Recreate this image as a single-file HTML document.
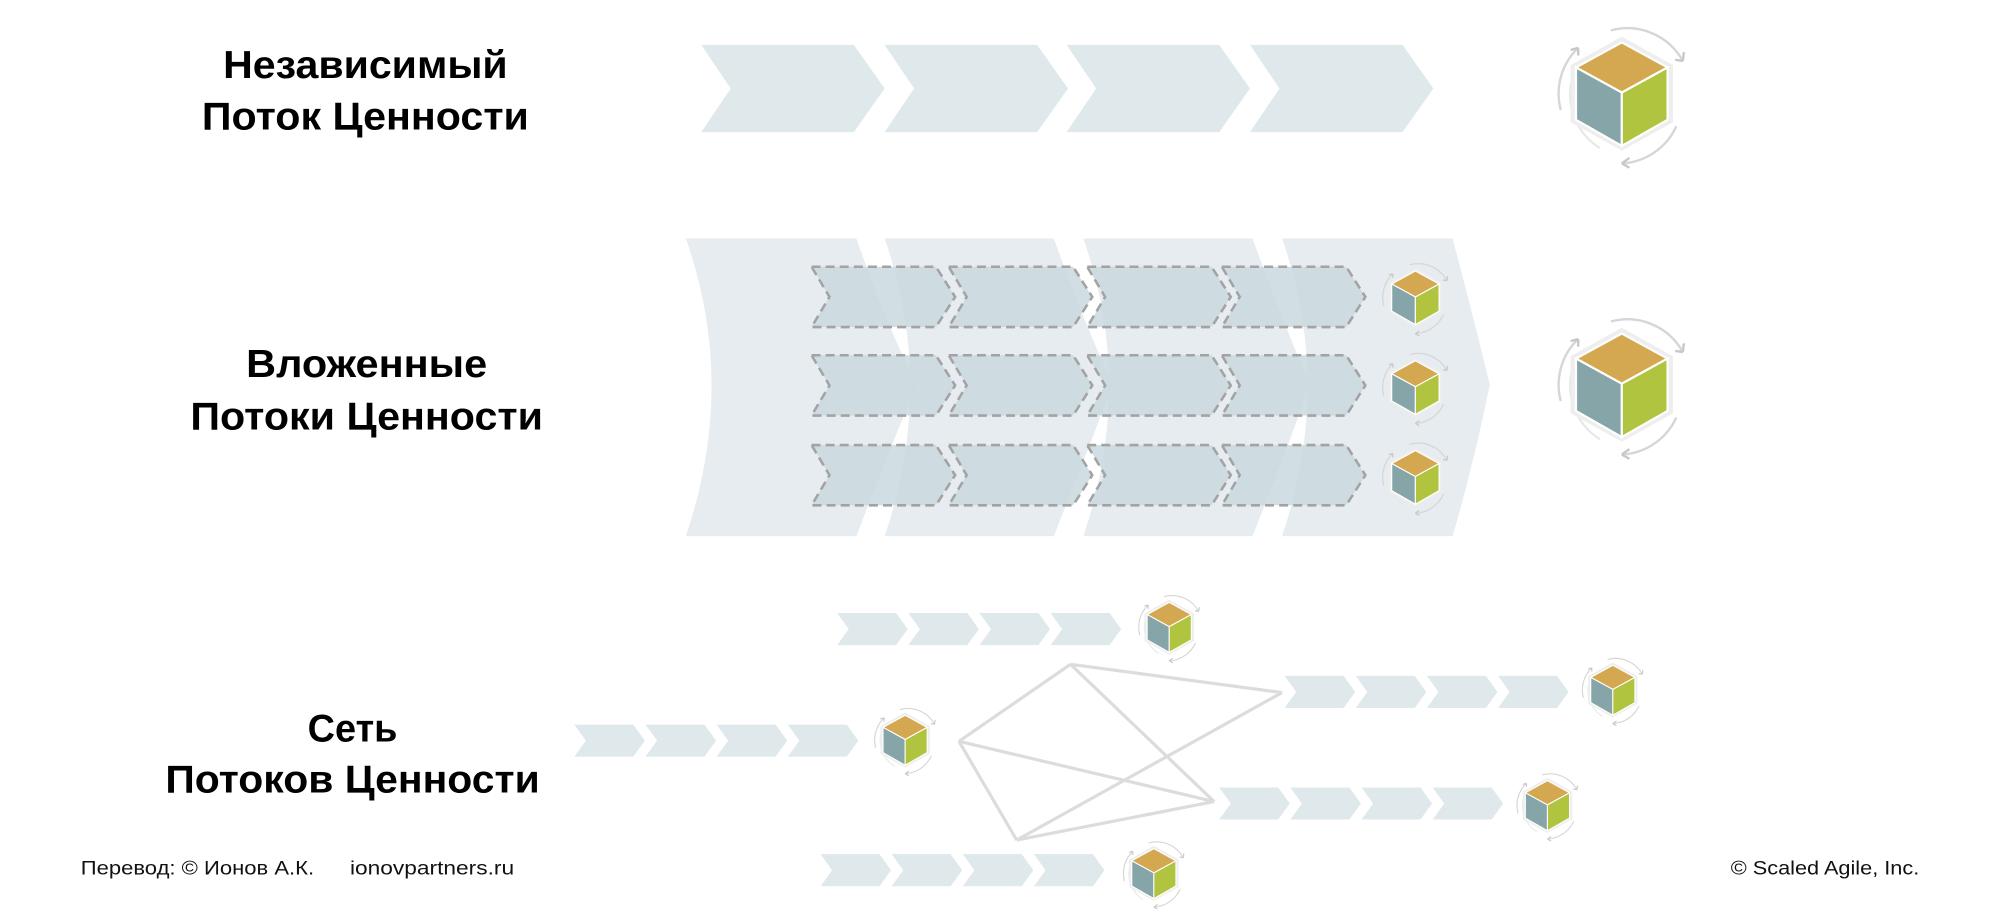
<!DOCTYPE html>
<html><head><meta charset="utf-8"><style>
html,body{margin:0;padding:0;background:#fff;}
svg{display:block;}
.t{font-family:"Liberation Sans","DejaVu Sans",sans-serif;font-weight:bold;font-size:30px;fill:#000;text-anchor:middle;}
.f{font-family:"Liberation Sans","DejaVu Sans",sans-serif;font-size:15px;fill:#111;}
</style></head><body>
<svg width="2000" height="917" viewBox="0 0 1560 715" preserveAspectRatio="none" xmlns="http://www.w3.org/2000/svg">
<defs>
<g id="cube">
  <path d="M-46,-12 A58,58 0 0 0 -20,50" fill="none" stroke="#e8e8e8" stroke-width="2"/>
  <path d="M-56,15 A58,58 0 0 1 -40,-42" fill="none" stroke="#d6d6d6" stroke-width="2.2"/>
  <path d="M-40,-42 l-7,2 M-40,-42 l0,7" stroke="#c8c8c8" stroke-width="2.2"/>
  <path d="M-10,-58 A58,58 0 0 1 56,-30" fill="none" stroke="#d6d6d6" stroke-width="2.2"/>
  <path d="M56,-30 l-7,-1 M56,-30 l1,-8" stroke="#c8c8c8" stroke-width="2.2"/>
  <path d="M50,30 A58,58 0 0 1 0,64" fill="none" stroke="#d6d6d6" stroke-width="2.2"/>
  <path d="M0,64 l7,-5 M0,64 l7,4" stroke="#c8c8c8" stroke-width="2.2"/>
  <polygon points="0,-50 45,-25 45,25 0,50 -45,25 -45,-25" fill="#fff" stroke="#eee" stroke-width="4"/>
  <polygon points="0,-47 42,-24 0,-1 -42,-24" fill="#d4a850" stroke="#fff" stroke-width="2"/>
  <polygon points="-42,-24 0,-1 0,48 -42,24" fill="#86a5a9" stroke="#fff" stroke-width="2"/>
  <polygon points="0,-1 42,-24 42,24 0,48" fill="#b0c43f" stroke="#fff" stroke-width="2"/>
</g>
<path id="ch1" d="M0,0 L119,0 L143,34 L119,68 L0,68 L23,34 Z" fill="#dfe8ea"/>
<path id="chs" d="M0,0 L46,0 L55,12.5 L46,25 L0,25 L9,12.5 Z" fill="#dfe8ea"/>
<path id="chd" d="M0,0 L97,0 L112,23.5 L97,47 L0,47 L14,23.5 Z" fill="#c9d8de" fill-opacity="0.85" stroke="#a3a3a3" stroke-width="2" stroke-dasharray="7,4"/>
</defs>

<text class="t" x="285" y="61" textLength="222" lengthAdjust="spacingAndGlyphs">Независимый</text>
<text class="t" x="285" y="101" textLength="255" lengthAdjust="spacingAndGlyphs">Поток Ценности</text>
<use href="#ch1" x="547" y="35"/>
<use href="#ch1" x="690" y="35"/>
<use href="#ch1" x="832" y="35"/>
<use href="#ch1" x="975" y="35"/>
<use href="#cube" transform="translate(1265,73) scale(0.85)"/>

<text class="t" x="286" y="294" textLength="188" lengthAdjust="spacingAndGlyphs">Вложенные</text>
<text class="t" x="286" y="335" textLength="275" lengthAdjust="spacingAndGlyphs">Потоки Ценности</text>
<g fill="#e3eaed" fill-opacity="0.9">
  <path d="M535,186 L668,186 Q690,250 715,300 Q690,360 668,418 L535,418 Q575,300 535,186 Z"/>
  <path d="M690,186 L822,186 Q845,250 868,300 Q845,360 822,418 L690,418 Q730,300 690,186 Z"/>
  <path d="M845,186 L977,186 Q1000,250 1022,300 Q1000,360 977,418 L845,418 Q885,300 845,186 Z"/>
  <path d="M1000,186 L1133,186 Q1150,250 1162,300 Q1150,360 1133,418 L1000,418 Q1040,300 1000,186 Z"/>
</g>
<g>
  <use href="#chd" x="633" y="208"/><use href="#chd" x="740" y="208"/><use href="#chd" x="848" y="208"/><use href="#chd" x="953" y="208"/>
  <use href="#chd" x="633" y="277"/><use href="#chd" x="740" y="277"/><use href="#chd" x="848" y="277"/><use href="#chd" x="953" y="277"/>
  <use href="#chd" x="633" y="347"/><use href="#chd" x="740" y="347"/><use href="#chd" x="848" y="347"/><use href="#chd" x="953" y="347"/>
</g>
<use href="#cube" transform="translate(1104,232) scale(0.44)"/>
<use href="#cube" transform="translate(1104,302) scale(0.44)"/>
<use href="#cube" transform="translate(1104,372) scale(0.44)"/>
<use href="#cube" transform="translate(1265,300) scale(0.85)"/>

<text class="t" x="275" y="578" textLength="70" lengthAdjust="spacingAndGlyphs">Сеть</text>
<text class="t" x="275" y="618" textLength="292" lengthAdjust="spacingAndGlyphs">Потоков Ценности</text>
<g stroke="#dcdcdc" stroke-width="2.5" fill="none">
  <line x1="835" y1="518" x2="1000" y2="540"/>
  <line x1="835" y1="518" x2="947" y2="625"/>
  <line x1="748" y1="578" x2="835" y2="518"/>
  <line x1="748" y1="578" x2="947" y2="625"/>
  <line x1="748" y1="578" x2="793" y2="655"/>
  <line x1="793" y1="655" x2="1000" y2="540"/>
  <line x1="793" y1="655" x2="947" y2="625"/>
</g>
<g>
  <use href="#chs" x="653" y="478"/><use href="#chs" x="708.5" y="478"/><use href="#chs" x="764" y="478"/><use href="#chs" x="819.5" y="478"/>
  <use href="#chs" x="1002" y="527"/><use href="#chs" x="1057.5" y="527"/><use href="#chs" x="1113" y="527"/><use href="#chs" x="1168.5" y="527"/>
  <use href="#chs" x="448" y="565"/><use href="#chs" x="503.5" y="565"/><use href="#chs" x="559" y="565"/><use href="#chs" x="614.5" y="565"/>
  <use href="#chs" x="951" y="614"/><use href="#chs" x="1006.5" y="614"/><use href="#chs" x="1062" y="614"/><use href="#chs" x="1117.5" y="614"/>
  <use href="#chs" x="640" y="666"/><use href="#chs" x="695.5" y="666"/><use href="#chs" x="751" y="666"/><use href="#chs" x="806.5" y="666"/>
</g>
<use href="#cube" transform="translate(912,489) scale(0.41)"/>
<use href="#cube" transform="translate(1258,538) scale(0.41)"/>
<use href="#cube" transform="translate(706,577) scale(0.41)"/>
<use href="#cube" transform="translate(1207,628) scale(0.41)"/>
<use href="#cube" transform="translate(900,681) scale(0.41)"/>

<text class="f" x="63" y="682" textLength="182" lengthAdjust="spacingAndGlyphs">Перевод: © Ионов А.К.</text>
<text class="f" x="273" y="682" textLength="128" lengthAdjust="spacingAndGlyphs">ionovpartners.ru</text>
<text class="f" x="1350" y="682" textLength="147" lengthAdjust="spacingAndGlyphs">© Scaled Agile,  Inc.</text>
</svg>
</body></html>
